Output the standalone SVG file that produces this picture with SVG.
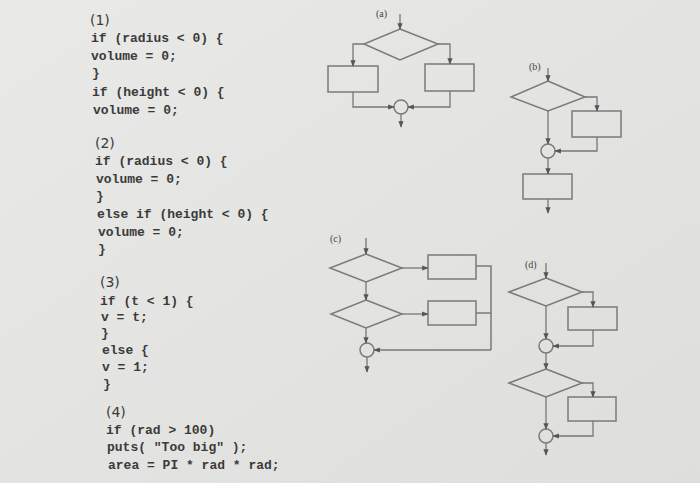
<svg xmlns="http://www.w3.org/2000/svg" width="700" height="483" viewBox="0 0 700 483">
<defs>
<marker id="ah" viewBox="0 0 10 10" refX="9" refY="5" markerWidth="5" markerHeight="5" orient="auto"><path d="M0,1 L10,5 L0,9 z" fill="#555"/></marker>
<linearGradient id="bg" x1="0" y1="0" x2="1" y2="1"><stop offset="0" stop-color="#e9e9e7"/><stop offset="1" stop-color="#dedfdd"/></linearGradient>
</defs>
<style>
.c{font-family:"Liberation Mono",monospace;font-size:13px;font-weight:bold;fill:#3a3a3a}
.n{font-family:"DejaVu Sans","Liberation Sans",sans-serif;font-size:14px;fill:#3a3a3a}
.l{font-family:"Liberation Serif",serif;font-size:10px;fill:#444}
.s{fill:none;stroke:#7a7a7a;stroke-width:1.5}
.k{fill:none;stroke:#777;stroke-width:1.3;marker-end:url(#ah)}
</style>
<rect width="700" height="483" fill="url(#bg)"/>
<g id="code">
<text class="n" x="90" y="25">(1)</text>
<text class="c" x="91" y="42">if (radius &lt; 0) {</text>
<text class="c" x="91" y="60">volume = 0;</text>
<text class="c" x="92" y="77">}</text>
<text class="c" x="92" y="96">if (height &lt; 0) {</text>
<text class="c" x="93" y="114">volume = 0;</text>
<text class="n" x="95" y="148">(2)</text>
<text class="c" x="95" y="165">if (radius &lt; 0) {</text>
<text class="c" x="96" y="183">volume = 0;</text>
<text class="c" x="96" y="200">}</text>
<text class="c" x="97" y="218">else if (height &lt; 0) {</text>
<text class="c" x="98" y="236">volume = 0;</text>
<text class="c" x="98" y="253">}</text>
<text class="n" x="100" y="287">(3)</text>
<text class="c" x="100" y="305">if (t &lt; 1) {</text>
<text class="c" x="101" y="321">v = t;</text>
<text class="c" x="101" y="337">}</text>
<text class="c" x="102" y="354">else {</text>
<text class="c" x="102" y="371">v = 1;</text>
<text class="c" x="103" y="388">}</text>
<text class="n" x="106" y="417">(4)</text>
<text class="c" x="106" y="434">if (rad &gt; 100)</text>
<text class="c" x="107" y="451">puts( "Too big" );</text>
<text class="c" x="108" y="469">area = PI * rad * rad;</text>
</g>
<g id="a">
<text class="l" x="376" y="17">(a)</text>
<polygon class="s" points="400,29 438,44 400,60 364,44"/>
<rect class="s" x="328" y="66" width="50" height="26"/>
<rect class="s" x="425" y="64" width="49" height="27"/>
<circle class="s" cx="401" cy="107" r="7"/>
</g>
<g id="b">
<text class="l" x="529" y="70">(b)</text>
<polygon class="s" points="548,81 585,97 548,111 511,97"/>
<rect class="s" x="572" y="111" width="49" height="26"/>
<circle class="s" cx="548" cy="151" r="7"/>
<rect class="s" x="523" y="174" width="49" height="25"/>
</g>
<g id="c">
<text class="l" x="330" y="242">(c)</text>
<polygon class="s" points="366,254 402,268 366,282 330,268"/>
<polygon class="s" points="366,300 402,314 366,328 331,314"/>
<rect class="s" x="428" y="255" width="48" height="24"/>
<rect class="s" x="428" y="301" width="48" height="24"/>
<circle class="s" cx="367" cy="350" r="7"/>
</g>
<g id="d">
<text class="l" x="525" y="268">(d)</text>
<polygon class="s" points="546,278 582,292 546,306 509,292"/>
<rect class="s" x="568" y="307" width="49" height="23"/>
<circle class="s" cx="546" cy="346" r="7"/>
<polygon class="s" points="546,369 582,383 546,397 509,383"/>
<rect class="s" x="568" y="397" width="48" height="24"/>
<circle class="s" cx="546" cy="436" r="7"/>
</g>
<g id="connectors">
<path class="k" d="M400,14 V29"/>
<path class="k" d="M364,44 H353 V66"/>
<path class="k" d="M438,44 H450 V64"/>
<path class="k" d="M353,92 V107 H394"/>
<path class="k" d="M450,91 V107 H408"/>
<path class="k" d="M401,114 V127"/>
<path class="k" d="M548,68 V81"/>
<path class="k" d="M585,97 H597 V111"/>
<path class="k" d="M548,111 V144"/>
<path class="k" d="M597,137 V151 H555"/>
<path class="k" d="M548,158 V174"/>
<path class="k" d="M548,199 V213"/>
<path class="k" d="M366,238 V254"/>
<path class="k" d="M402,268 H428"/>
<path class="k" d="M366,282 V300"/>
<path class="k" d="M402,314 H428"/>
<path class="s" d="M476,266 H491 V350"/>
<path class="s" d="M476,313 H491"/>
<path class="k" d="M491,350 H374"/>
<path class="k" d="M366,328 V343"/>
<path class="k" d="M367,357 V372"/>
<path class="k" d="M546,263 V278"/>
<path class="k" d="M582,292 H593 V307"/>
<path class="k" d="M546,306 V339"/>
<path class="k" d="M593,330 V346 H553"/>
<path class="k" d="M546,353 V369"/>
<path class="k" d="M582,383 H593 V397"/>
<path class="k" d="M546,397 V429"/>
<path class="k" d="M593,421 V436 H553"/>
<path class="k" d="M546,443 V455"/>
</g>
</svg>
